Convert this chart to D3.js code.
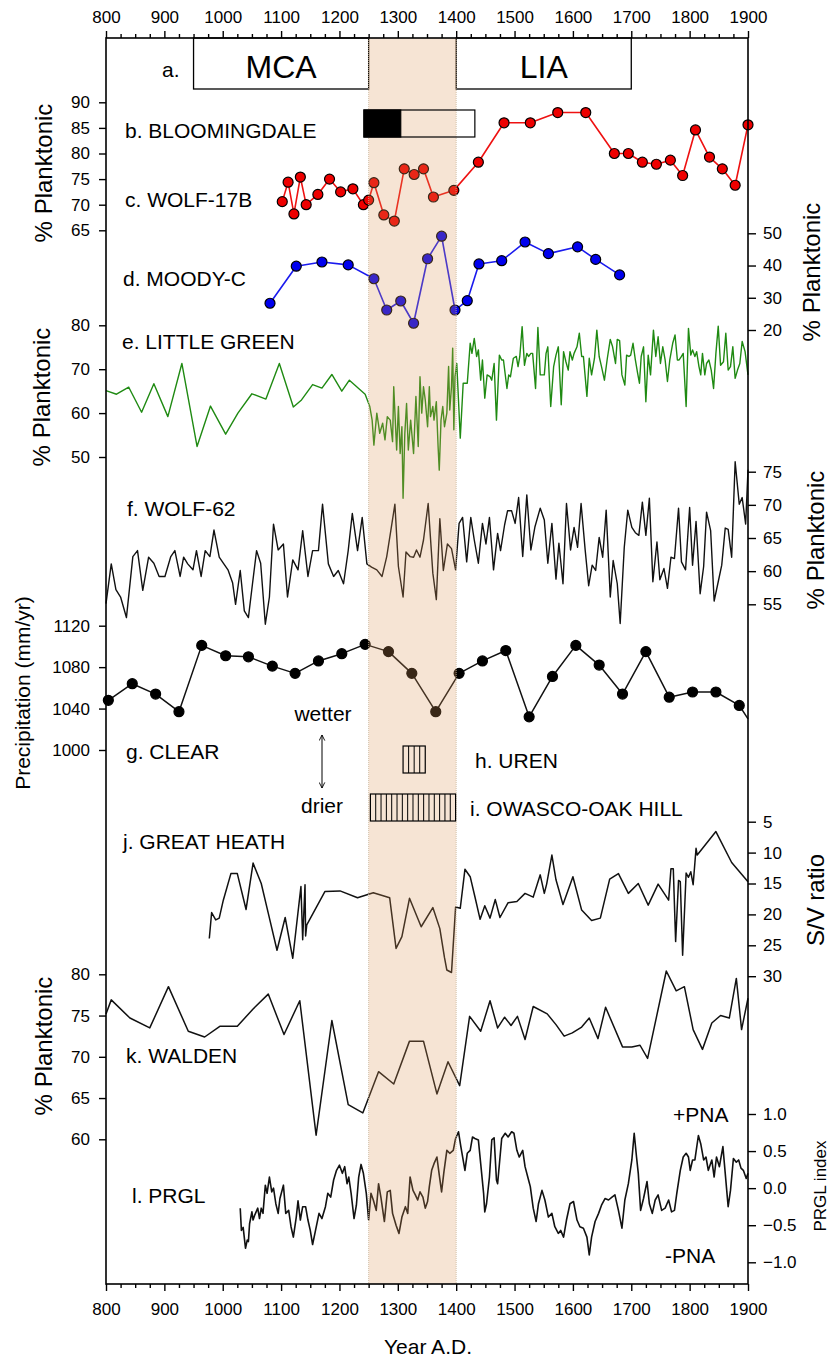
<!DOCTYPE html>
<html>
<head>
<meta charset="utf-8">
<script src="https://cdn.jsdelivr.net/npm/d3@7"></script>
<style>
  body { margin: 0; background: #fff; }
  svg text { font-family: "Liberation Sans", Arial, sans-serif; fill: #000; }
</style>
</head>
<body>
<svg id="chart" width="832" height="1358"></svg>
<script>
// ---- data: [year A.D., value] ----
const periods = [
    { name: "MCA", start: 950, end: 1250 },
    { name: "LIA", start: 1400, end: 1700 }
];
const shadeSpan = [1250, 1400];
const bloomDry = [1242, 1305];
const bloomAll = [1242, 1432];
const urenSpan = [1309, 1347];
const owascoSpan = [1253, 1399];

const wolf17b = [[1102,70.6],[1112,74.4],[1122,68.2],[1133,75.4],[1143,70.0],[1163,72.0],[1183,75.0],[1202,72.5],[1223,73.1],[1241,70.0],[1250,70.9],[1259,74.3],[1276,68.0],[1294,66.8],[1311,77.0],[1328,75.9],[1344,77.0],[1361,71.5],[1396,72.8],[1438,78.3],[1482,86.0],[1527,86.0],[1574,88.0],[1622,88.0],[1671,80.0],[1695,80.0],[1719,78.3],[1743,77.9],[1767,78.7],[1788,75.7],[1810,84.6],[1834,79.3],[1856,77.0],[1878,73.8],[1900,85.6]];

const moodyC = [[1081,28.3],[1126,39.8],[1170,41.1],[1215,40.2],[1259,35.9],[1281,26.2],[1305,29.0],[1327,22.1],[1351,42.1],[1375,49.1],[1398,26.2],[1419,29.1],[1439,40.5],[1478,41.5],[1518,47.3],[1558,43.7],[1608,45.8],[1639,41.9],[1680,37.1]];

const littleGreen = [[800,65.1],[818,64.3],[839,65.9],[861,60.2],[882,66.7],[906,59.2],[930,71.3],[956,52.4],[979,61.6],[1005,55.2],[1026,60.0],[1050,64.4],[1074,63.2],[1097,71.3],[1121,61.4],[1135,63.0],[1154,66.5],[1170,65.7],[1187,68.8],[1204,65.0],[1217,67.5],[1244,64.3],
    [1252,61.5],[1256,58.4],[1259,52.7],[1264,60.0],[1267,57.3],[1269,55.4],[1274,57.7],[1278,53.9],[1282,59.2],[1287,58.4],[1291,53.5],[1293,66.0],[1298,51.6],[1301,61.5],[1304,50.8],[1307,56.9],[1309,40.6],[1312,55.4],[1315,62.2],[1318,51.6],[1322,58.4],[1327,50.8],[1331,63.8],[1335,52.4],[1338,68.3],[1341,60.0],[1344,66.0],[1347,63.0],[1351,56.9],[1354,66.0],[1356,59.2],[1360,61.5],[1362,58.4],[1366,62.6],[1369,52.4],[1371,47.0],[1374,58.4],[1377,61.5],[1380,56.9],[1384,60.0],[1387,70.6],[1389,60.7],[1392,66.0],[1394,74.8],[1396,56.2],[1398,68.3],
    [1401,71.3],[1407,54.3],[1412,66.8],[1419,66.8],[1424,75.9],[1427,73.6],[1431,77.0],[1435,72.9],[1438,74.4],[1442,67.5],[1445,72.1],[1449,63.4],[1453,68.7],[1458,68.3],[1461,67.5],[1465,71.3],[1469,58.4],[1474,73.2],[1478,72.1],[1481,72.1],[1487,65.6],[1490,68.7],[1493,68.3],[1498,72.5],[1503,72.9],[1506,70.6],[1509,72.9],[1513,79.7],[1517,70.9],[1521,73.6],[1524,72.9],[1528,73.6],[1531,73.6],[1536,65.6],[1540,79.5],[1544,68.7],[1547,68.7],[1551,68.7],[1554,73.6],[1557,75.1],[1562,61.5],[1567,70.6],[1571,73.2],[1575,75.1],[1580,61.9],[1584,74.0],[1588,71.7],[1592,69.8],[1595,74.0],[1599,72.1],[1602,73.6],[1607,75.1],[1611,78.2],[1615,72.9],[1618,72.9],[1624,63.8],[1628,72.5],[1632,68.7],[1637,72.5],[1641,78.9],[1645,72.9],[1649,70.6],[1654,67.5],[1659,72.5],[1664,76.8],[1668,75.1],[1673,71.3],[1676,76.8],[1680,76.5],[1684,68.7],[1689,66.4],[1692,73.2],[1696,72.9],[1699,73.2],[1703,75.9],[1707,72.1],[1711,69.0],[1714,66.8],[1717,72.9],[1721,75.1],[1725,62.6],[1729,73.2],[1733,68.7],[1738,78.9],[1742,72.9],[1746,77.4],[1750,71.3],[1754,75.1],[1758,72.1],[1762,67.2],[1766,72.1],[1771,75.9],[1775,77.8],[1779,72.1],[1782,72.1],[1786,72.9],[1789,73.6],[1794,61.5],[1798,79.3],[1802,73.2],[1805,74.4],[1809,72.9],[1812,74.0],[1816,70.6],[1819,68.7],[1822,73.6],[1826,68.7],[1829,71.3],[1833,72.1],[1837,69.8],[1841,65.6],[1845,73.6],[1849,79.8],[1853,70.9],[1858,71.7],[1862,78.2],[1866,69.8],[1870,70.6],[1874,75.1],[1878,67.9],[1882,69.8],[1886,71.3],[1890,76.3],[1895,74.0],[1900,68.7]];

const wolf62 = [[800,55.1],[809,61.1],[817,57.2],[825,56.1],[835,53.0],[846,62.2],[854,63.1],[863,57.1],[873,62.1],[882,61.2],[891,59.2],[901,59.2],[911,62.2],[918,63.1],[927,59.2],[933,62.1],[940,61.1],[949,60.2],[955,63.1],[963,59.2],[970,63.1],[978,62.2],[985,66.2],[994,62.1],[1001,61.2],[1009,60.2],[1017,58.2],[1022,55.0],[1030,60.1],[1037,54.0],[1044,53.0],[1051,58.1],[1058,63.1],[1065,61.2],[1073,52.0],[1080,56.1],[1087,67.1],[1095,63.2],[1104,64.1],[1111,56.1],[1120,61.7],[1129,60.2],[1137,66.1],[1146,59.2],[1154,63.1],[1164,63.1],[1171,70.1],[1181,61.1],[1190,59.2],[1198,60.1],[1207,58.1],[1215,63.1],[1222,68.7],[1231,63.1],[1239,68.1],[1247,61.1],[1255,60.6],[1264,60.2],[1273,59.2],[1281,62.2],[1288,66.1],[1295,70.1],[1301,60.7],[1309,56.1],[1314,62.9],[1321,62.2],[1327,62.1],[1332,63.2],[1338,62.1],[1344,64.7],[1352,70.2],[1360,59.7],[1366,55.7],[1372,67.9],[1378,60.1],[1385,64.1],[1392,63.4],[1399,60.2],[1405,67.2],[1411,68.1],[1418,61.4],[1425,68.1],[1431,64.7],[1438,61.2],[1445,67.2],[1451,64.1],[1457,68.1],[1464,60.2],[1471,65.7],[1476,63.1],[1483,67.0],[1488,69.1],[1495,69.1],[1501,67.2],[1507,71.1],[1514,62.2],[1521,71.5],[1528,63.2],[1535,66.7],[1544,69.5],[1551,67.7],[1557,61.2],[1564,67.2],[1571,58.8],[1576,64.2],[1583,58.1],[1589,70.2],[1596,63.2],[1602,66.6],[1608,63.6],[1614,70.2],[1621,63.2],[1627,57.8],[1633,60.9],[1639,60.1],[1645,65.1],[1651,62.1],[1657,69.2],[1664,56.1],[1669,61.6],[1676,58.1],[1681,52.1],[1688,63.6],[1694,69.2],[1701,66.6],[1707,65.8],[1713,65.4],[1719,70.4],[1725,65.4],[1731,71.0],[1737,58.4],[1744,64.4],[1749,58.7],[1756,60.4],[1762,57.4],[1768,62.1],[1774,61.9],[1781,69.5],[1786,61.4],[1793,60.2],[1800,69.6],[1805,60.9],[1811,67.5],[1818,56.6],[1824,60.7],[1829,68.9],[1836,66.1],[1842,55.5],[1849,58.4],[1855,60.9],[1861,66.5],[1866,66.3],[1872,62.1],[1878,76.5],[1885,70.1],[1890,71.1],[1896,67.1],[1900,75.3]];

const clearPrecip = [[804,1048],[845,1064],[885,1054],[925,1037],[964,1101],[1005,1091],[1044,1090],[1085,1081],[1124,1074],[1164,1086],[1204,1093],[1244,1102],[1284,1095],[1324,1074],[1365,1037],[1405,1074],[1445,1086],[1485,1096],[1525,1032],[1565,1071],[1605,1101],[1645,1082],[1685,1054],[1725,1095],[1765,1051],[1805,1056],[1845,1056],[1885,1043],[1900,1030]];

const greatHeath = [[977,23.9],[981,19.7],[988,20.9],[994,20.6],[1001,17.7],[1014,13.4],[1025,13.4],[1040,19.2],[1052,11.7],[1066,15.0],[1078,19.8],[1093,25.8],[1107,20.5],[1120,27.1],[1134,15.5],[1137,24.1],[1141,15.2],[1142,23.5],[1144,21.7],[1175,16.3],[1201,16.2],[1231,17.3],[1258,16.5],[1286,17.3],[1297,25.5],[1307,23.6],[1320,17.4],[1340,22.0],[1360,18.9],[1372,22.3],[1380,27.0],[1384,29.0],[1392,29.4],[1399,18.8],[1407,19.0],[1415,12.7],[1424,13.9],[1432,17.1],[1441,20.8],[1449,18.6],[1458,20.6],[1467,17.6],[1475,20.5],[1489,18.1],[1504,17.9],[1518,16.6],[1532,17.2],[1544,13.6],[1551,16.6],[1555,15.1],[1564,10.4],[1571,14.4],[1583,18.4],[1600,13.9],[1615,19.3],[1632,21.0],[1647,20.6],[1663,14.3],[1678,13.4],[1695,16.6],[1712,15.0],[1729,18.5],[1746,15.1],[1764,17.7],[1768,12.6],[1772,12.6],[1776,24.4],[1781,14.5],[1784,14.7],[1788,26.6],[1794,13.3],[1798,14.0],[1802,13.1],[1806,15.2],[1811,9.3],[1813,10.4],[1845,6.6],[1872,11.6],[1900,14.7]];

const walden = [[800,75.2],[809,76.9],[841,74.7],[875,73.5],[907,78.5],[941,73.1],[969,72.4],[995,73.7],[1025,73.7],[1052,75.8],[1078,77.6],[1105,72.7],[1132,76.8],[1160,60.5],[1187,74.4],[1215,64.2],[1240,63.2],[1267,68.2],[1293,66.7],[1320,71.9],[1344,71.9],[1367,65.5],[1386,69.4],[1406,66.5],[1423,74.9],[1442,73.1],[1458,76.8],[1471,73.5],[1483,74.8],[1494,73.8],[1505,74.9],[1518,72.1],[1532,76.1],[1556,75.2],[1571,73.9],[1585,72.5],[1599,72.9],[1615,73.6],[1628,74.7],[1643,72.2],[1656,76.0],[1685,71.2],[1701,71.2],[1715,71.4],[1728,69.8],[1760,80.4],[1777,78.0],[1791,78.5],[1806,73.3],[1822,70.9],[1838,74.1],[1853,75.0],[1868,74.7],[1880,79.5],[1889,73.3],[1900,77.1]];

const prgl = [[1030,-0.27],[1032,-0.57],[1035,-0.53],[1039,-0.81],[1042,-0.70],[1044,-0.72],[1046,-0.48],[1050,-0.32],[1052,-0.43],[1055,-0.36],[1060,-0.27],[1063,-0.41],[1066,-0.27],[1069,-0.34],[1073,0.04],[1076,-0.07],[1080,0.15],[1084,-0.05],[1087,0.00],[1091,-0.21],[1095,-0.34],[1098,-0.14],[1104,0.04],[1108,-0.34],[1113,-0.30],[1117,-0.52],[1121,-0.66],[1126,-0.39],[1129,-0.17],[1133,-0.43],[1137,-0.25],[1142,-0.25],[1146,-0.43],[1150,-0.57],[1154,-0.76],[1159,-0.57],[1165,-0.34],[1170,-0.41],[1176,-0.25],[1180,-0.07],[1185,-0.12],[1190,0.11],[1195,0.24],[1200,0.31],[1205,0.20],[1209,0.29],[1213,0.06],[1216,0.15],[1220,-0.07],[1225,-0.41],[1229,-0.23],[1233,0.15],[1237,0.32],[1241,0.20],[1246,-0.07],[1250,-0.43],[1254,-0.07],[1258,-0.16],[1263,-0.30],[1267,0.06],[1271,-0.12],[1277,-0.45],[1282,-0.05],[1287,-0.03],[1291,-0.34],[1297,-0.50],[1302,-0.61],[1307,-0.39],[1313,-0.25],[1317,-0.34],[1321,0.15],[1326,-0.03],[1330,-0.09],[1334,-0.16],[1338,-0.05],[1343,-0.12],[1347,-0.27],[1351,-0.18],[1354,0.02],[1358,0.24],[1362,0.33],[1367,0.42],[1371,0.18],[1375,-0.05],[1379,0.22],[1384,0.51],[1389,0.47],[1395,0.51],[1399,0.67],[1404,0.76],[1408,0.56],[1415,0.24],[1419,0.47],[1424,0.51],[1428,0.69],[1432,0.67],[1438,0.65],[1442,0.33],[1447,-0.07],[1449,-0.32],[1452,-0.21],[1457,0.15],[1461,0.65],[1465,0.68],[1469,0.11],[1471,0.06],[1478,0.67],[1484,0.74],[1489,0.69],[1495,0.76],[1499,0.74],[1504,0.51],[1508,0.42],[1514,0.51],[1518,0.29],[1524,0.11],[1527,0.02],[1532,-0.27],[1537,-0.45],[1541,-0.21],[1547,-0.03],[1552,-0.16],[1558,-0.39],[1564,-0.34],[1569,-0.52],[1575,-0.61],[1579,-0.57],[1584,-0.66],[1589,-0.43],[1595,-0.21],[1601,-0.18],[1607,-0.43],[1612,-0.52],[1618,-0.54],[1624,-0.66],[1628,-0.90],[1632,-0.66],[1638,-0.45],[1644,-0.34],[1649,-0.23],[1655,-0.14],[1661,-0.16],[1667,-0.12],[1672,-0.09],[1678,-0.30],[1684,-0.54],[1689,-0.16],[1695,0.06],[1701,0.38],[1705,0.74],[1709,0.42],[1712,0.20],[1716,-0.30],[1721,-0.14],[1727,0.09],[1731,-0.21],[1736,-0.34],[1741,-0.16],[1746,-0.09],[1752,-0.30],[1758,-0.27],[1764,-0.16],[1769,-0.32],[1774,-0.30],[1778,-0.07],[1784,0.24],[1789,0.42],[1794,0.47],[1798,0.42],[1801,0.24],[1805,0.38],[1809,0.38],[1815,0.71],[1819,0.60],[1824,0.38],[1828,0.42],[1832,0.24],[1838,0.38],[1842,0.15],[1846,0.42],[1851,0.29],[1857,0.56],[1861,0.20],[1866,-0.25],[1870,-0.03],[1875,0.40],[1880,0.35],[1884,0.38],[1888,0.27],[1892,0.24],[1897,0.13],[1900,0.20]];

// tick values
const yearMajor = d3.range(800, 1901, 100);
const yearMinor = d3.range(825, 1900, 25).filter(v => v % 100 !== 0);
const ticksC = [65, 70, 75, 80, 85, 90];
const ticksD = [20, 30, 40, 50];
const ticksE = [50, 60, 70, 80];
const ticksF = [55, 60, 65, 70, 75];
const ticksG = [1000, 1040, 1080, 1120];
const ticksJ = [5, 10, 15, 20, 25, 30];
const ticksK = [60, 65, 70, 75, 80];
const ticksL = [-1, -0.5, 0, 0.5, 1];

// ---- layout ----
const svg = d3.select("#chart");
const plotLeft = 106, plotRight = 748, plotTop = 38, plotBottom = 1284;
const x = d3.scaleLinear().domain([800, 1900]).range([plotLeft, plotRight]);

// each panel gets its own vertical scale, positioned in the stack
const yC = d3.scaleLinear().domain([65, 90]).range([230.3, 102.3]);
const yD = d3.scaleLinear().domain([20, 50]).range([330, 233.3]);
const yE = d3.scaleLinear().domain([50, 80]).range([457, 325.3]);
const yF = d3.scaleLinear().domain([55, 75]).range([604.3, 471.7]);
const yG = d3.scaleLinear().domain([1000, 1120]).range([750, 625.7]);
const yJ = d3.scaleLinear().domain([5, 30]).range([821.7, 976.2]);
const yK = d3.scaleLinear().domain([60, 80]).range([1139.3, 974.3]);
const yL = d3.scaleLinear().domain([-1, 1]).range([1262.3, 1114]);

const lineFor = y => d3.line().x(d => x(d[0])).y(d => y(d[1]));

// ---- a. MCA / LIA boxes ----
const periodG = svg.append("g");
periodG.selectAll("rect").data(periods).enter().append("rect")
    .attr("x", d => x(d.start)).attr("y", plotTop)
    .attr("width", d => x(d.end) - x(d.start)).attr("height", 51)
    .attr("fill", "#fff").attr("stroke", "#000").attr("stroke-width", 1.3);
periodG.selectAll("text").data(periods).enter().append("text")
    .attr("x", d => (x(d.start) + x(d.end)) / 2).attr("y", 78)
    .attr("text-anchor", "middle").style("font-size", "32px")
    .text(d => d.name);

// ---- series ----
function drawLine(data, y, color, width) {
    svg.append("path").datum(data)
        .attr("fill", "none").attr("stroke", color)
        .attr("stroke-width", width).attr("stroke-linejoin", "round")
        .attr("d", lineFor(y));
}
function drawDots(data, y, color) {
    svg.append("g").selectAll("circle").data(data).enter().append("circle")
        .attr("cx", d => x(d[0])).attr("cy", d => y(d[1])).attr("r", 5)
        .attr("fill", color).attr("stroke", "#000").attr("stroke-width", 1.2);
}

drawLine(wolf17b, yC, "#ee1111", 1.6);
drawDots(wolf17b, yC, "#ee0000");
drawLine(moodyC, yD, "#1a1aee", 1.6);
drawDots(moodyC, yD, "#0000ee");
drawLine(littleGreen, yE, "#1f8a12", 1.4);
drawLine(wolf62, yF, "#111", 1.4);
drawLine(clearPrecip, yG, "#111", 1.5);
drawDots(clearPrecip.slice(0, -1), yG, "#000");
drawLine(greatHeath, yJ, "#111", 1.5);
drawLine(walden, yK, "#111", 1.5);
drawLine(prgl, yL, "#111", 1.6);

// ---- shaded 1250-1400 interval, laid over the data ----
svg.append("rect")
    .attr("x", x(shadeSpan[0])).attr("y", plotTop)
    .attr("width", x(shadeSpan[1]) - x(shadeSpan[0])).attr("height", plotBottom - plotTop)
    .attr("fill", "rgb(222,150,90)").attr("fill-opacity", 0.26);
svg.selectAll(".shade-edge").data(shadeSpan).enter().append("line")
    .attr("class", "shade-edge")
    .attr("x1", d => x(d)).attr("x2", d => x(d)).attr("y1", plotTop).attr("y2", plotBottom)
    .attr("stroke", "#c9b59c").attr("stroke-width", 0.8).attr("stroke-dasharray", "1,1");

// ---- b. Bloomingdale bar (open box, dry part filled black) ----
svg.append("rect")
    .attr("x", x(bloomAll[0])).attr("y", 110)
    .attr("width", x(bloomAll[1]) - x(bloomAll[0])).attr("height", 27)
    .attr("fill", "none").attr("stroke", "#000").attr("stroke-width", 1.2);
svg.append("rect")
    .attr("x", x(bloomDry[0])).attr("y", 110)
    .attr("width", x(bloomDry[1]) - x(bloomDry[0])).attr("height", 27)
    .attr("fill", "#000").attr("stroke", "#000").attr("stroke-width", 1.2);

// ---- h, i. hatched boxes ----
function hatchBox(span, y0, h) {
    const g = svg.append("g");
    g.append("rect")
        .attr("x", x(span[0])).attr("y", y0)
        .attr("width", x(span[1]) - x(span[0])).attr("height", h)
        .attr("fill", "none").attr("stroke", "#000").attr("stroke-width", 1.2);
    const step = (span[1] - span[0]) / Math.round((span[1] - span[0]) / 9.3);
    g.selectAll("line").data(d3.range(span[0] + step, span[1] - 1, step)).enter().append("line")
        .attr("x1", d => x(d)).attr("x2", d => x(d))
        .attr("y1", y0).attr("y2", y0 + h)
        .attr("stroke", "#000").attr("stroke-width", 1);
}
hatchBox(urenSpan, 746, 27);
hatchBox(owascoSpan, 794, 27);

// ---- frame ----
svg.append("rect")
    .attr("x", plotLeft).attr("y", plotTop)
    .attr("width", plotRight - plotLeft).attr("height", plotBottom - plotTop)
    .attr("fill", "none").attr("stroke", "#000").attr("stroke-width", 1.6);

// ---- axes ----
function styleAxis(g, size) {
    g.select(".domain").remove();
    g.selectAll("line").attr("stroke", "#000").attr("stroke-width", 1.4);
    g.selectAll("text").style("font-size", size + "px")
        .style("font-family", "'Liberation Sans', Arial, sans-serif");
}
const topAxis = svg.append("g").attr("transform", `translate(0,${plotTop})`)
    .call(d3.axisTop(x).tickValues(yearMajor).tickSize(7).tickPadding(8).tickFormat(d3.format("d")));
styleAxis(topAxis, 17);
styleAxis(svg.append("g").attr("transform", `translate(0,${plotTop})`)
    .call(d3.axisTop(x).tickValues(yearMinor).tickSize(4).tickFormat("")), 17);
const botAxis = svg.append("g").attr("transform", `translate(0,${plotBottom})`)
    .call(d3.axisBottom(x).tickValues(yearMajor).tickSize(7).tickPadding(12).tickFormat(d3.format("d")));
styleAxis(botAxis, 17);
styleAxis(svg.append("g").attr("transform", `translate(0,${plotBottom})`)
    .call(d3.axisBottom(x).tickValues(yearMinor).tickSize(4).tickFormat("")), 17);

function leftAxis(y, ticks, fmt) {
    const g = svg.append("g").attr("transform", `translate(${plotLeft},0)`)
        .call(d3.axisLeft(y).tickValues(ticks).tickSize(7).tickPadding(9).tickFormat(fmt || d3.format("d")));
    styleAxis(g, 17);
}
function rightAxis(y, ticks, fmt) {
    const g = svg.append("g").attr("transform", `translate(${plotRight},0)`)
        .call(d3.axisRight(y).tickValues(ticks).tickSize(8).tickPadding(7).tickFormat(fmt || d3.format("d")));
    styleAxis(g, 17);
}
leftAxis(yC, ticksC);
rightAxis(yD, ticksD);
leftAxis(yE, ticksE);
rightAxis(yF, ticksF);
leftAxis(yG, ticksG);
rightAxis(yJ, ticksJ);
leftAxis(yK, ticksK);
rightAxis(yL, ticksL, d3.format(".1f"));

// ---- axis titles ----
const vTitles = [
    { text: "% Planktonic", x: 52, y: 173, size: 24 },
    { text: "% Planktonic", x: 820, y: 272, size: 24 },
    { text: "% Planktonic", x: 50, y: 397, size: 24 },
    { text: "% Planktonic", x: 824, y: 540, size: 24 },
    { text: "Precipitation (mm/yr)", x: 30, y: 693, size: 21 },
    { text: "S/V ratio", x: 824, y: 900, size: 24 },
    { text: "% Planktonic", x: 52, y: 1046, size: 24 },
    { text: "PRGL index", x: 826, y: 1186, size: 17 }
];
svg.selectAll(".vtitle").data(vTitles).enter().append("text")
    .attr("class", "vtitle")
    .attr("transform", d => `translate(${d.x},${d.y}) rotate(-90)`)
    .attr("text-anchor", "middle").style("font-size", d => d.size + "px")
    .text(d => d.text);
svg.append("text").attr("x", 428).attr("y", 1354)
    .attr("text-anchor", "middle").style("font-size", "21px").text("Year A.D.");

// ---- record labels ----
const labels = [
    { text: "a.", x: 162, y: 77 },
    { text: "b. BLOOMINGDALE", x: 125, y: 138 },
    { text: "c. WOLF-17B", x: 125, y: 207 },
    { text: "d. MOODY-C", x: 123, y: 286 },
    { text: "e. LITTLE GREEN", x: 122, y: 349 },
    { text: "f. WOLF-62", x: 127, y: 516 },
    { text: "g. CLEAR", x: 126, y: 759 },
    { text: "h. UREN", x: 475, y: 768 },
    { text: "i. OWASCO-OAK HILL", x: 470, y: 816 },
    { text: "j. GREAT HEATH", x: 123, y: 849 },
    { text: "k. WALDEN", x: 126, y: 1063 },
    { text: "l. PRGL", x: 132, y: 1203 },
    { text: "+PNA", x: 673, y: 1122 },
    { text: "-PNA", x: 665, y: 1263 }
];
svg.selectAll(".lbl").data(labels).enter().append("text")
    .attr("class", "lbl").attr("x", d => d.x).attr("y", d => d.y)
    .style("font-size", "21px").text(d => d.text);

// wetter / drier arrow
svg.append("text").attr("x", 323).attr("y", 721).attr("text-anchor", "middle")
    .style("font-size", "21px").text("wetter");
svg.append("text").attr("x", 322).attr("y", 813).attr("text-anchor", "middle")
    .style("font-size", "21px").text("drier");
const defs = svg.append("defs");
defs.append("marker").attr("id", "head").attr("viewBox", "0 0 10 10")
    .attr("refX", 9).attr("refY", 5).attr("markerWidth", 7).attr("markerHeight", 7)
    .attr("orient", "auto-start-reverse")
    .append("path").attr("d", "M1,1 L9,5 L1,9").attr("fill", "none").attr("stroke", "#000").attr("stroke-width", 1.3);
svg.append("line").attr("x1", 322).attr("x2", 322).attr("y1", 735).attr("y2", 788)
    .attr("stroke", "#000").attr("stroke-width", 1)
    .attr("marker-start", "url(#head)").attr("marker-end", "url(#head)");
</script>
</body>
</html>
